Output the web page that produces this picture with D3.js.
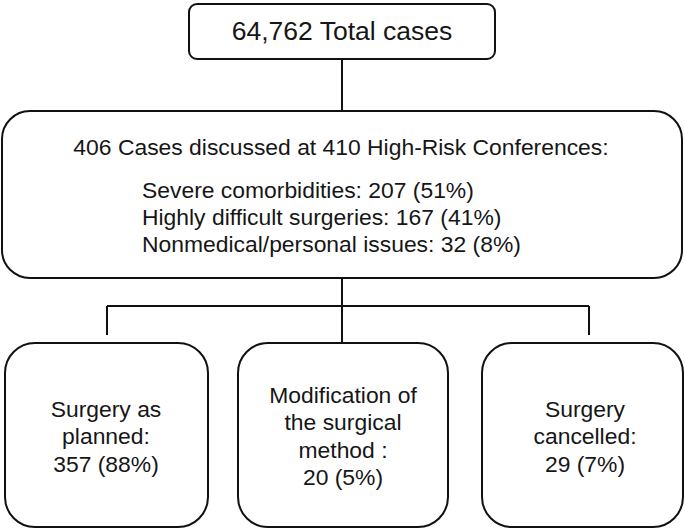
<!DOCTYPE html>
<html>
<head>
<meta charset="utf-8">
<script src="https://cdn.jsdelivr.net/npm/d3@7"></script>
<style>
  body { margin: 0; background: #fff; }
  text { font-family: "Liberation Sans", Arial, sans-serif; fill: #161616; }
</style>
</head>
<body>
<script>
// Data
var totalCases = 64762;
var discussed = 406;
var conferences = 410;
var reasonLabels = ["Severe comorbidities", "Highly difficult surgeries", "Nonmedical/personal issues"];
var reasonCounts = [207, 167, 32];
var reasonPct = [51, 41, 8];
var outcomeLabels = [["Surgery as", "planned:"], ["Modification of", "the surgical", "method :"], ["Surgery", "cancelled:"]];
var outcomeCounts = [357, 20, 29];
var outcomePct = [88, 5, 7];

const W = 685, H = 529;
const svg = d3.select("body").append("svg")
  .attr("width", W).attr("height", H);

const fmt = d3.format(",");
const stroke = "#111";
const sx = 1.04; // fonte um pouco mais larga

function label(sel, x, y, size, anchor) {
  return sel.append("text")
    .attr("transform", "translate(" + x + "," + y + ") scale(" + sx + ",1)")
    .attr("text-anchor", anchor || "middle")
    .style("font-size", size + "px");
}

// Linhas de ligacao
const lines = [
  [[342, 59], [342, 110]],
  [[342, 278], [342, 343]],
  [[107, 306], [589, 306]],
  [[107, 306], [107, 335]],
  [[589, 306], [589, 335]]
];
svg.selectAll(".link").data(lines).enter().append("path")
  .attr("class", "link")
  .attr("d", d3.line())
  .attr("fill", "none")
  .attr("stroke", stroke)
  .attr("stroke-width", 2);

// Caixa do topo
svg.append("rect")
  .attr("x", 189).attr("y", 4).attr("width", 306).attr("height", 55)
  .attr("rx", 8).attr("fill", "#fff").attr("stroke", stroke).attr("stroke-width", 2);
label(svg, 342, 40, 25.5).text(fmt(totalCases) + " Total cases");

// Caixa do meio
svg.append("rect")
  .attr("x", 2).attr("y", 111).attr("width", 680).attr("height", 167)
  .attr("rx", 28).attr("fill", "#fff").attr("stroke", stroke).attr("stroke-width", 2);
label(svg, 341, 155, 22).text(discussed + " Cases discussed at " + conferences + " High-Risk Conferences:");
reasonLabels.forEach((d, i) => {
  label(svg, 142, 198 + i * 27, 22, "start")
    .text(d + ": " + reasonCounts[i] + " (" + reasonPct[i] + "%)");
});

// Caixas de baixo
const boxes = [
  {x: 5, w: 203, cx: 106, y0: 417},
  {x: 238, w: 210, cx: 343, y0: 403},
  {x: 482, w: 201, cx: 585, y0: 417}
];
const g = svg.selectAll(".outcome").data(outcomeLabels).enter().append("g")
  .attr("class", "outcome");
g.append("rect")
  .attr("x", (d, i) => boxes[i].x).attr("y", 343)
  .attr("width", (d, i) => boxes[i].w).attr("height", 184)
  .attr("rx", 30).attr("fill", "#fff").attr("stroke", stroke).attr("stroke-width", 2);
g.each(function(d, i) {
  const rows = d.concat([outcomeCounts[i] + " (" + outcomePct[i] + "%)"]);
  const sel = d3.select(this);
  rows.forEach((r, j) => {
    label(sel, boxes[i].cx, boxes[i].y0 + j * 27.4, 22).text(r);
  });
});
</script>
</body>
</html>
